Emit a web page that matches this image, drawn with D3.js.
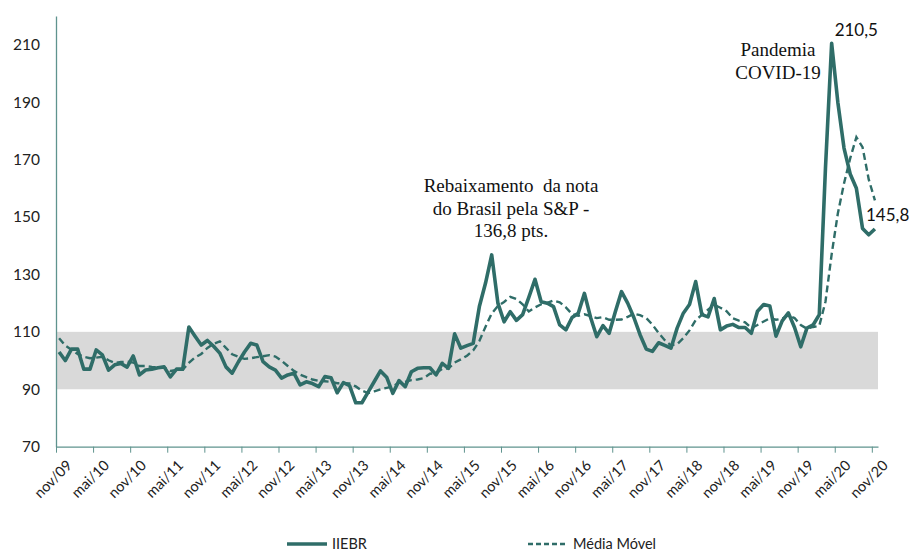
<!DOCTYPE html>
<html><head><meta charset="utf-8">
<script src="https://cdn.jsdelivr.net/npm/d3@7"></script>
<style>html,body{margin:0;padding:0;background:#fff;}svg{display:block;}</style>
</head><body>
<svg id="chart" width="912" height="552"></svg>
<script>
// ---- data ----
const monthNames = ["jan","fev","mar","abr","mai","jun","jul","ago","set","out","nov","dez"];
const startYear = 2009, startMonth = 10; // nov/09
const iiebr = [103,100,104,104,97,97,103.7,102,96.7,98.5,99,97.7,101.6,95,96.7,97,97.5,97.8,94.3,97,97,111.7,108.5,105.4,107,105,102.6,97.8,95.6,99.5,103,106,105.4,99.6,97.8,96.7,93.9,95,95.6,91.5,92.6,92,90.9,94.4,94,88.8,92.3,91.3,85.3,85.3,89,92.7,96.4,94.2,88.6,93,90.9,96.1,97.3,97.5,97.5,95,99,97.3,109.3,104.3,105.2,106,118.8,127,136.8,120,113.5,117,114,116,122,128.3,120.5,120,118.8,112.4,110.7,115,116.5,123.4,115,108.3,112.2,109.5,117,124,120,115,109,104,103.2,106.2,105.3,104.3,111.3,116.5,119.5,127.5,116,115.2,121.6,110.7,112,112.6,111.5,111.5,109.5,117.2,119.5,119,108.5,113.8,116.6,111.5,104.8,111.3,112.4,116,167,210.5,190,174,165,160,146,143.8,145.8];
const mediaMovel = [107.8,105.2,103.8,102.3,101.3,100.8,101.0,101.3,100.1,99.2,99.5,99.6,99.3,98.1,98.1,97.8,97.6,97.6,96.4,96.7,96.8,99.2,101.1,102.3,104.4,105.8,106.7,104.4,102.2,101.3,100.6,100.8,101.2,101.5,101.9,101.4,99.9,98.1,96.4,95.1,94.2,93.4,92.9,92.8,92.6,92.1,92.1,92.0,91.0,89.5,88.7,89.3,90.0,90.5,91.0,92.3,92.6,93.2,93.4,93.9,95.4,95.7,97.1,97.3,99.3,100.4,101.7,103.5,106.8,111.8,116.4,119.0,120.4,122.2,121.4,119.6,117.1,118.5,119.6,120.1,120.9,120.3,118.5,116.2,115.6,116.1,115.5,114.8,115.1,114.2,114.2,114.3,115.2,116.3,115.8,114.8,112.5,109.6,107.1,105.3,105.7,107.8,110.5,114.1,115.9,117.7,119.4,118.4,117.2,114.7,113.9,113.3,111.3,112.4,113.6,114.7,114.2,114.6,115.8,114.8,112.4,111.1,111.7,112.1,120.5,137.0,151.2,161.7,170.4,177.8,174.3,163.1,155.8];
const yTicks = [70,90,110,130,150,170,190,210];
const band = [90,110];
const legendLabels = ["IIEBR","Média Móvel"];
const annotDowngrade = ["Rebaixamento  da nota","do Brasil pela S&P -","136,8 pts."];
const annotCovid = ["Pandemia","COVID-19"];
const peakLabel = "210,5";
const lastLabel = "145,8";

const months = iiebr.map((_, i) => {
  const m = (startMonth + i) % 12;
  const yr = startYear + Math.floor((startMonth + i) / 12);
  return monthNames[m] + "/" + String(yr % 100).padStart(2, "0");
});
const tickIdx = months.map((m, i) => i).filter(i => i % 6 === 0);

// ---- drawing ----
const color = "#2f6d68";
const axisColor = "#5f938e";
const svg = d3.select("#chart");
const pLeft = 56, pRight = 878, pTop = 16, pBottom = 446.7;

const x = d3.scaleLinear().domain([0, months.length]).range([pLeft, pRight]);
const y = d3.scaleLinear().domain([70, 220]).range([pBottom, pTop]);

// band
svg.append("rect")
  .attr("x", pLeft).attr("width", pRight - pLeft)
  .attr("y", y(band[1])).attr("height", y(band[0]) - y(band[1]))
  .attr("fill", "#d9d9d9");

// y axis
const yAxis = svg.append("g").attr("transform", `translate(${pLeft},0)`)
  .call(d3.axisLeft(y).tickValues(yTicks).tickSize(0).tickPadding(16).tickFormat(d3.format("d")));
yAxis.select(".domain").attr("stroke", axisColor).attr("stroke-width", 1.3);
yAxis.selectAll("text").attr("font-family", "Lato, 'Open Sans', sans-serif").attr("font-size", 15.5).attr("fill", "#222");

// x axis
const xAxis = svg.append("g").attr("transform", `translate(0,${pBottom})`)
  .call(d3.axisBottom(x).tickValues(tickIdx).tickSize(6).tickSizeOuter(0).tickFormat(i => months[i]));
xAxis.select(".domain").attr("stroke", axisColor).attr("stroke-width", 1.3);
xAxis.selectAll(".tick line").attr("stroke", axisColor).attr("stroke-width", 1);
xAxis.selectAll("text")
  .attr("font-family", "Lato, 'Open Sans', sans-serif").attr("font-size", 14.5).attr("fill", "#222")
  .attr("text-anchor", "end")
  .attr("dx", "-0.1em").attr("dy", "0.7em")
  .attr("transform", "translate(4,5) rotate(-45)");

// lines
const line = arr => d3.line().x((d, i) => x(i + 0.5)).y(d => y(d))(arr);
svg.append("path").attr("d", line(mediaMovel))
  .attr("fill", "none").attr("stroke", color).attr("stroke-width", 2.4)
  .attr("stroke-dasharray", "7,4");
svg.append("path").attr("d", line(iiebr))
  .attr("fill", "none").attr("stroke", color).attr("stroke-width", 3.6)
  .attr("stroke-linejoin", "round");

// annotations
const serif = "'Liberation Serif', 'DejaVu Serif', serif";
svg.append("g").selectAll("text").data(annotDowngrade).join("text")
  .attr("x", 511).attr("y", (d, i) => 192 + i * 22.5)
  .attr("text-anchor", "middle").attr("font-family", serif).attr("font-size", 19).attr("fill", "#111")
  .style("white-space", "pre")
  .text(d => d);
svg.append("g").selectAll("text").data(annotCovid).join("text")
  .attr("x", 778).attr("y", (d, i) => 56 + i * 23)
  .attr("text-anchor", "middle").attr("font-family", serif).attr("font-size", 19).attr("fill", "#111")
  .text(d => d);

const peakI = iiebr.indexOf(d3.max(iiebr));
svg.append("text").attr("x", x(peakI + 0.5) + 3).attr("y", 36)
  .attr("font-family", "Lato, 'Open Sans', sans-serif").attr("font-size", 17).attr("fill", "#111")
  .text(peakLabel);
svg.append("text").attr("x", 866).attr("y", 221)
  .attr("font-family", "Lato, 'Open Sans', sans-serif").attr("font-size", 17).attr("fill", "#111")
  .text(lastLabel);

// legend
const lg = svg.append("g").attr("font-family", "Lato, 'Open Sans', sans-serif").attr("font-size", 14.5).attr("fill", "#222");
lg.append("line").attr("x1", 287).attr("x2", 327).attr("y1", 544).attr("y2", 544)
  .attr("stroke", color).attr("stroke-width", 3.6);
lg.append("text").attr("x", 332).attr("y", 549).text(legendLabels[0]);
lg.append("line").attr("x1", 528).attr("x2", 568).attr("y1", 544).attr("y2", 544)
  .attr("stroke", color).attr("stroke-width", 2.4).attr("stroke-dasharray", "5,3");
lg.append("text").attr("x", 573).attr("y", 549).text(legendLabels[1]);
</script>
</body></html>
